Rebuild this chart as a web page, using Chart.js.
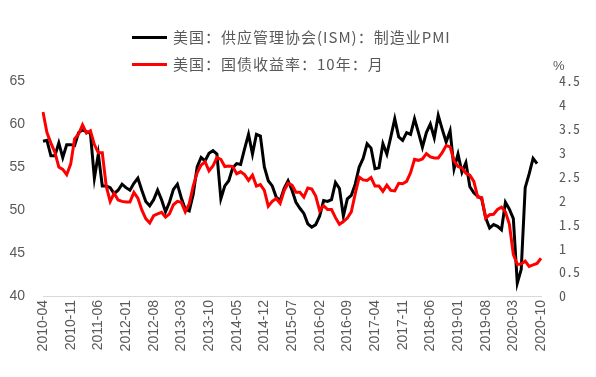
<!DOCTYPE html>
<html>
<head>
<meta charset="utf-8">
<script src="https://cdn.jsdelivr.net/npm/chart.js@4"></script>
<style>
    html, body { margin: 0; padding: 0; background: #fff; }
</style>
</head>
<body>
<canvas id="chartPmi" width="596" height="377"></canvas>
<script>
'use strict';

const START_YEAR = 2010;
const START_MONTH = 4;
const MONTH_COUNT = 127;

const TICK_LABELS = ['2010-04', '2010-11', '2011-06', '2012-01', '2012-08', '2013-03', '2013-10',
    '2014-05', '2014-12', '2015-07', '2016-02', '2016-09', '2017-04', '2017-11', '2018-06',
    '2019-01', '2019-08', '2020-03', '2020-10'];

const PMI_NAME = '美国：供应管理协会(ISM)：制造业PMI';
const YIELD_NAME = '美国：国债收益率：10年：月';

// 2010-04 .. 2020-09
const PMI = [
    58.0, 58.1, 56.3, 56.3, 57.8, 56.1, 57.6, 57.6, 57.5,
    59.0, 59.3, 59.1, 58.9, 53.7, 56.5, 52.8, 52.8, 52.6, 51.9, 52.3, 53.0,
    52.6, 52.3, 53.1, 53.7, 52.3, 51.0, 50.5, 51.2, 52.3, 51.2, 49.8, 50.9,
    52.4, 53.0, 51.4, 50.1, 49.9, 51.8, 55.0, 56.1, 55.7, 56.6, 56.9, 56.5,
    51.3, 52.8, 53.4, 54.9, 55.4, 55.3, 57.1, 58.8, 56.5, 58.8, 58.6, 55.0,
    53.4, 52.8, 51.5, 51.1, 52.5, 53.4, 52.3, 50.9, 50.2, 49.6, 48.4, 48.0,
    48.3, 49.3, 51.1, 51.0, 51.2, 53.2, 52.5, 49.3, 51.3, 51.7, 53.0, 55.0,
    56.0, 57.7, 57.2, 54.8, 54.9, 57.7, 56.5, 58.5, 60.6, 58.5, 58.1, 59.0,
    58.8, 60.6, 59.0, 57.3, 59.0, 60.0, 58.4, 61.0, 59.4, 57.9, 59.2, 54.8,
    56.5, 54.4, 55.5, 52.7, 52.0, 51.6, 51.3, 49.1, 47.9, 48.3, 48.1, 47.7,
    50.9, 50.1, 49.0, 41.5, 43.1, 52.6, 54.2, 56.0, 55.4
];

// 2010-04 .. 2020-10
const YIELD_10Y = [
    3.85, 3.42, 3.20, 3.01, 2.70, 2.65, 2.54, 2.76, 3.29,
    3.39, 3.58, 3.41, 3.46, 3.17, 3.00, 3.00, 2.30, 1.98, 2.15, 2.01, 1.98,
    1.97, 1.97, 2.17, 2.05, 1.80, 1.62, 1.53, 1.68, 1.72, 1.75, 1.65, 1.72,
    1.91, 1.98, 1.96, 1.76, 1.93, 2.30, 2.58, 2.74, 2.81, 2.62, 2.72, 2.90,
    2.86, 2.71, 2.72, 2.71, 2.56, 2.60, 2.54, 2.42, 2.53, 2.30, 2.33, 2.21,
    1.88, 1.98, 2.04, 1.94, 2.20, 2.36, 2.32, 2.17, 2.17, 2.07, 2.26, 2.24,
    2.09, 1.78, 1.89, 1.81, 1.81, 1.64, 1.50, 1.56, 1.63, 1.76, 2.14, 2.49,
    2.43, 2.42, 2.48, 2.30, 2.30, 2.19, 2.32, 2.21, 2.20, 2.36, 2.35, 2.40,
    2.58, 2.86, 2.84, 2.87, 2.98, 2.91, 2.89, 2.89, 3.00, 3.15, 3.12, 2.83,
    2.71, 2.68, 2.57, 2.53, 2.40, 2.07, 2.06, 1.63, 1.70, 1.71, 1.81, 1.86,
    1.76, 1.50, 0.87, 0.66, 0.67, 0.73, 0.62, 0.65, 0.68, 0.79
];

const PMI_RANGE = [40, 65, 5];
const YIELD_RANGE = [0, 4.5, 0.5];

const TICK_COLOR = '#595959';

function buildMonths() {
    let ret = [];
    for (let i = 0; i < MONTH_COUNT; i++) {
        let m = START_MONTH - 1 + i;
        let year = START_YEAR + Math.floor(m / 12);
        ret.push(`${year}-${String(m % 12 + 1).padStart(2, '0')}`);
    }
    return ret;
}

// two stacked legend rows + the "%" unit over the right axis
const legendRows = {
    id: 'legendRows',
    afterDraw(chart) {
        const ctx = chart.ctx;
        ctx.save();
        ctx.textBaseline = 'middle';
        ctx.fillStyle = TICK_COLOR;
        ctx.font = '15px "Noto Sans CJK SC"';
        if ('letterSpacing' in ctx) {
            ctx.letterSpacing = '1px';
        }
        chart.data.datasets.forEach((ds, i) => {
            let y = 37.5 + i * 27;
            ctx.strokeStyle = ds.borderColor;
            ctx.lineWidth = 3;
            ctx.beginPath();
            ctx.moveTo(132, y);
            ctx.lineTo(167, y);
            ctx.stroke();
            ctx.fillText(ds.label, 173, y);
        });
        if ('letterSpacing' in ctx) {
            ctx.letterSpacing = '0px';
        }
        ctx.font = '13px "Liberation Sans"';
        ctx.fillText('%', chart.chartArea.right + 12, 66);
        ctx.restore();
    }
};

const months = buildMonths();

new Chart(document.getElementById('chartPmi'), {
    type: 'line',
    data: {
        labels: months,
        datasets: [
            {
                label: PMI_NAME,
                data: PMI,
                borderColor: '#000000',
                backgroundColor: '#000000',
                borderWidth: 3,
                pointRadius: 0,
                yAxisID: 'yPmi',
                order: 1
            },
            {
                label: YIELD_NAME,
                data: YIELD_10Y,
                borderColor: '#ff0000',
                backgroundColor: '#ff0000',
                borderWidth: 3,
                pointRadius: 0,
                yAxisID: 'yRate',
                order: 0
            }
        ]
    },
    options: {
        responsive: false,
        animation: false,
        layout: { padding: { top: 81, left: 0, right: 0, bottom: 0 } },
        plugins: {
            legend: { display: false },
            tooltip: { enabled: false }
        },
        scales: {
            x: {
                grid: { display: true, drawOnChartArea: false, drawTicks: false },
                border: { display: true, color: '#d9d9d9', width: 1 },
                afterFit: (scale) => { scale.height = 81; },
                ticks: {
                    autoSkip: false,
                    minRotation: 90,
                    maxRotation: 90,
                    padding: 4,
                    color: TICK_COLOR,
                    font: { family: '"Liberation Sans"', size: 14 },
                    callback: function (value) {
                        let label = this.getLabelForValue(value);
                        return TICK_LABELS.includes(label) ? label : null;
                    }
                }
            },
            yPmi: {
                position: 'left',
                min: PMI_RANGE[0],
                max: PMI_RANGE[1],
                grid: { display: false },
                border: { display: false },
                afterFit: (scale) => { scale.width = 43; },
                ticks: {
                    stepSize: PMI_RANGE[2],
                    padding: 10,
                    color: TICK_COLOR,
                    font: { family: '"Liberation Sans"', size: 14 }
                }
            },
            yRate: {
                position: 'right',
                min: YIELD_RANGE[0],
                max: YIELD_RANGE[1],
                grid: { display: false },
                border: { display: false },
                afterFit: (scale) => { scale.width = 55; },
                ticks: {
                    stepSize: YIELD_RANGE[2],
                    padding: 10,
                    color: TICK_COLOR,
                    font: { family: '"Noto Sans Mono CJK SC", "Liberation Mono", monospace', size: 14 },
                    callback: (value) => String(Math.round(value * 10) / 10)
                }
            }
        }
    },
    plugins: [legendRows]
});
</script>
</body>
</html>
